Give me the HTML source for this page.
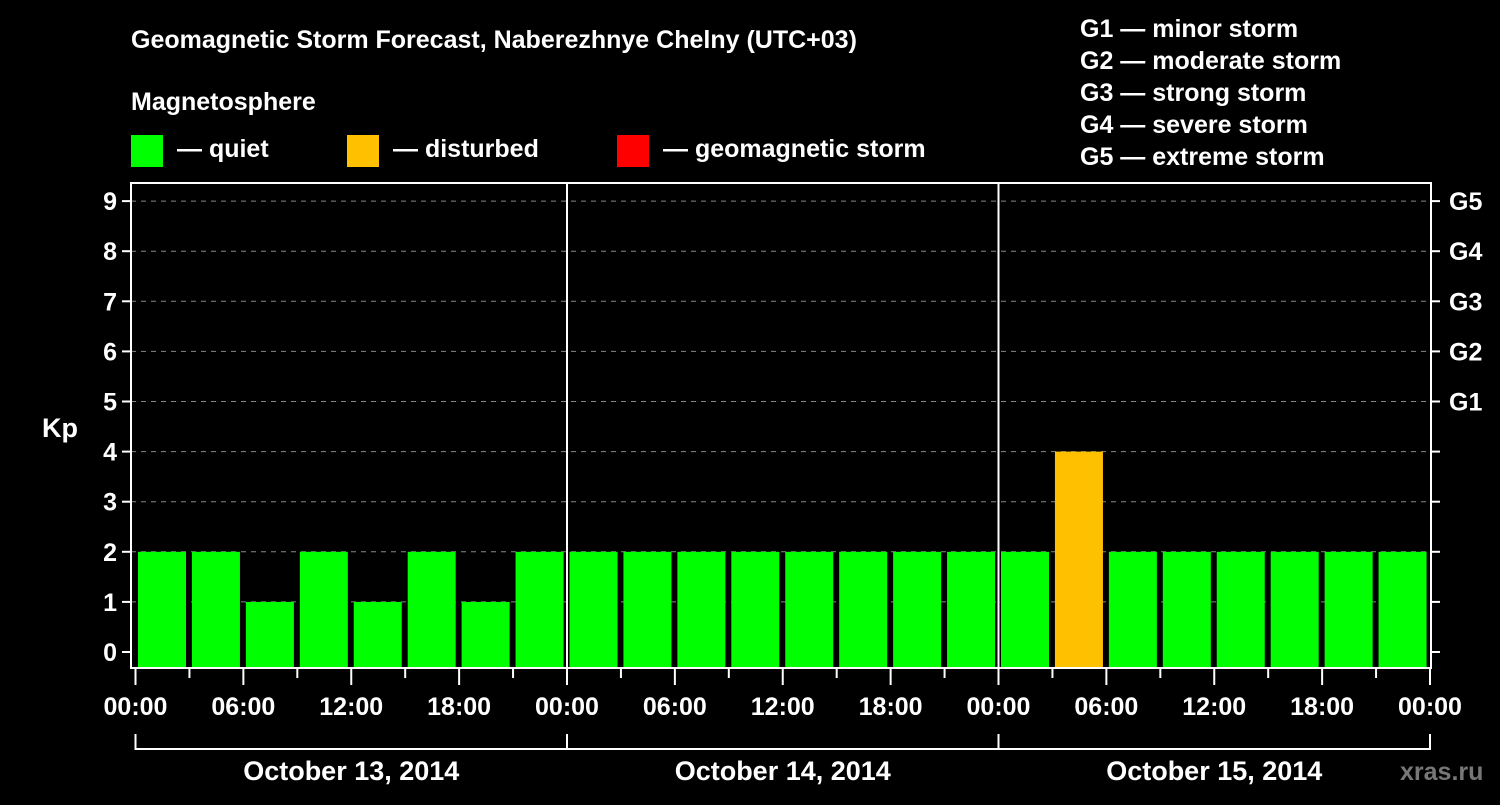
<!DOCTYPE html>
<html><head><meta charset="utf-8"><style>
body{margin:0;background:#000;width:1500px;height:800px;overflow:hidden}
svg{font-family:"Liberation Sans",sans-serif;font-weight:bold}
</style></head><body>
<svg id="c" width="1500" height="800">
<rect width="1500" height="800" fill="#000"/>
<text x="131" y="48" fill="#fff" font-size="25">Geomagnetic Storm Forecast, Naberezhnye Chelny (UTC+03)</text>
<text x="131" y="110" fill="#fff" font-size="25">Magnetosphere</text>
<g><rect x="131" y="135" width="32" height="32" fill="#00ff00"/><text x="177" y="157" fill="#fff" font-size="25">— quiet</text></g>
<g><rect x="347" y="135" width="32" height="32" fill="#ffc000"/><text x="393" y="157" fill="#fff" font-size="25">— disturbed</text></g>
<g><rect x="617" y="135" width="32" height="32" fill="#ff0000"/><text x="663" y="157" fill="#fff" font-size="25">— geomagnetic storm</text></g>
<g fill="#fff" font-size="25">
<text x="1080" y="37">G1 — minor storm</text><text x="1080" y="69">G2 — moderate storm</text><text x="1080" y="101">G3 — strong storm</text><text x="1080" y="133">G4 — severe storm</text><text x="1080" y="165">G5 — extreme storm</text></g>
<text x="42" y="437" fill="#fff" font-size="27">Kp</text>
<text x="1400" y="780" fill="#777" font-size="25">xras.ru</text>
<g id="g"></g>
</svg>
<script>
const kpValues=[2,2,1,2,1,2,1,2, 2,2,2,2,2,2,2,2, 2,4,2,2,2,2,2,2];
const yTicks=[0,1,2,3,4,5,6,7,8,9];
const gLabels=["G1","G2","G3","G4","G5"];
const xTickLabels=["00:00","06:00","12:00","18:00","00:00","06:00","12:00","18:00","00:00","06:00","12:00","18:00","00:00"];
const dayLabels=["October 13, 2014","October 14, 2014","October 15, 2014"];
const NS="http://www.w3.org/2000/svg";
const g=document.getElementById('g');
const L=131,R=1431,T=183,B=668,X0=135.5,X1=1430;
const xs=i=>X0+(X1-X0)*i/24;
const ys=v=>652-50.1*v;
function mk(t,a,p){const e=document.createElementNS(NS,t);for(const k in a)e.setAttribute(k,a[k]);(p||g).appendChild(e);return e;}
yTicks.forEach(v=>{
 if(v>0){const l=mk('line',{x1:L,x2:R,y1:ys(v),y2:ys(v),stroke:'#888','stroke-dasharray':'5,5','stroke-width':1});
 
 }
 mk('line',{x1:L-9,x2:L,y1:ys(v),y2:ys(v),stroke:'#fff','stroke-width':2});
 mk('line',{x1:R,x2:R+9,y1:ys(v),y2:ys(v),stroke:'#fff','stroke-width':2});
 const t=mk('text',{x:L-14,y:ys(v)+9,fill:'#fff','font-size':25,'text-anchor':'end'});t.textContent=v;
 
 
});
gLabels.forEach((s,i)=>{const t=mk('text',{x:R+18,y:ys(5+i)+9,fill:'#fff','font-size':25});t.textContent=s;
 
 });
kpValues.forEach((v,i)=>{
 const col=v>=5?'#ff0000':v>=4?'#ffc000':'#00ff00';
 const y=ys(v);
 const r=mk('rect',{x:xs(i)+2.5,y:y,width:48,height:B-y,fill:col});
 
 
});
[1,2].forEach(d=>mk('line',{x1:xs(d*8),x2:xs(d*8),y1:T,y2:B,stroke:'#fff','stroke-width':2}));
mk('rect',{x:L,y:T,width:R-L,height:B-T,fill:'none',stroke:'#fff','stroke-width':2});
for(let i=0;i<=24;i++){mk('line',{x1:xs(i),x2:xs(i),y1:B,y2:B+(i%2?10:17),stroke:'#fff','stroke-width':2});}
xTickLabels.forEach((s,i)=>{const t=mk('text',{x:xs(i*2),y:715,fill:'#fff','font-size':25,'text-anchor':'middle'});t.textContent=s;
 
 });
mk('path',{d:`M${xs(0)},734V749H${xs(24)}V734M${xs(8)},734V749M${xs(16)},734V749`,stroke:'#fff','stroke-width':2,fill:'none'});
dayLabels.forEach((s,i)=>{const t=mk('text',{x:(xs(i*8)+xs(i*8+8))/2,y:780,fill:'#fff','font-size':27,'text-anchor':'middle'});t.textContent=s;
 
 });
</script>
</body></html>
